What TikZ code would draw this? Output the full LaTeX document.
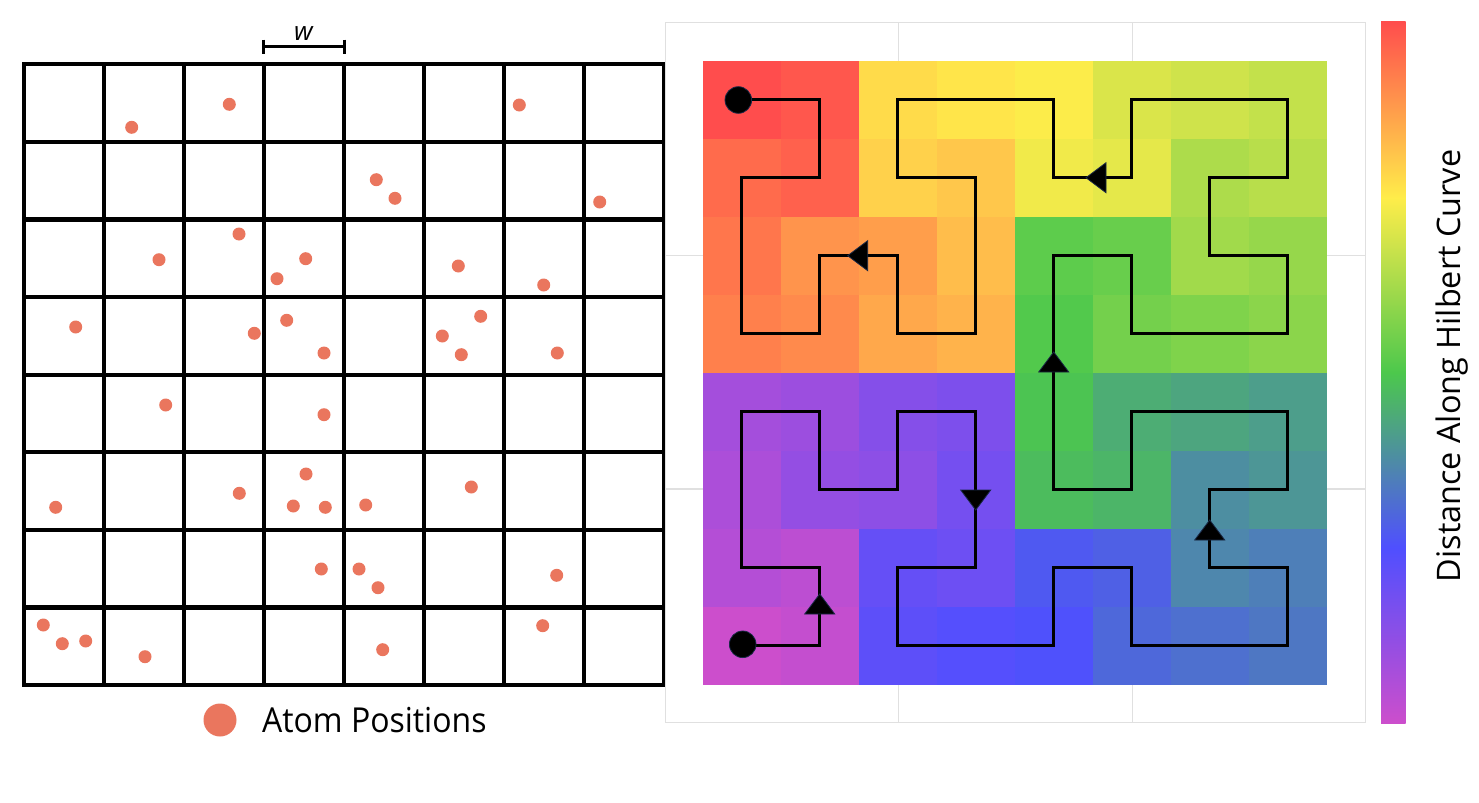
\documentclass[tikz,border=0pt]{standalone}
\usepackage{fontspec}
\setmainfont{Open Sans}
\newfontfamily\legendfont{Open Sans}[FakeStretch=0.93]
\definecolor{cm0}{RGB}{204,78,204}
\definecolor{cm1}{RGB}{79,79,255}
\definecolor{cm2}{RGB}{76,200,76}
\definecolor{cm3}{RGB}{255,237,74}
\definecolor{cm4}{RGB}{255,77,77}
\definecolor{atom}{RGB}{234,118,94}
\definecolor{panelgrid}{RGB}{224,224,224}
\definecolor{tririm}{RGB}{25,40,70}
\begin{document}
\begin{tikzpicture}[x=0.5pt,y=-0.5pt,
  gridline/.style={line width=2.1pt},
  hilb/.style={line width=1.5pt, line join=miter},
  tri/.style={fill=black, draw=tririm, line width=0.4pt, line join=miter},
  endpt/.style={circle, fill=black, draw=tririm, line width=0.4pt, minimum size=13.3pt, inner sep=0pt},
  faint/.style={draw=panelgrid, line width=0.6pt},
  atomdot/.style={fill=atom}]
\fill[white] (0,0) rectangle (1479,803);
\useasboundingbox (0,0) rectangle (1479,803);

% ---------------- left grid ----------------
\foreach \k in {1,...,7} {
  \draw[gridline] ({24.3+80*\k},64.3) -- ({24.3+80*\k},685);
  \draw[gridline] (24.3,{64.3+77.59*\k}) -- (664.3,{64.3+77.59*\k});
}
\draw[gridline] (24.3,64.3) rectangle (664.3,685);

\foreach \px/\py in {131.7/127.3, 229.3/104.3, 239/234, 159/259.7, 305.7/258.7, 277/278.7,
  75.7/327, 286.7/320.3, 254.3/333.3, 324/353,
  519.3/105, 376.3/179.7, 395/198.3, 599.7/202, 458.3/266, 543.7/285, 480.7/316.3,
  442.3/336, 461.3/354.7, 557.3/353,
  165.7/405, 324/414.7, 306/474, 239.3/493.3, 55.7/507.3, 293.3/506, 325.3/507.3,
  321.3/569, 43.3/625, 62.3/643.7, 85.7/641, 145/656.7,
  471.3/487, 365.7/505, 359/569, 378/587.7, 556.7/575.3, 542.7/625.7, 382.7/649.7}
  \fill[atomdot] (\px,\py) circle[radius=3.25pt];

% w bracket
\coordinate (wl) at (263.3,46.7);
\coordinate (wr) at (344.7,46.7);
\draw[line width=1.5pt] (wl) -- (wr);
\draw[line width=1.5pt] ([yshift=3.5pt]wl) -- ([yshift=-3.5pt]wl);
\draw[line width=1.5pt] ([yshift=3.5pt]wr) -- ([yshift=-3.5pt]wr);
\node[font=\fontsize{13}{15}\selectfont\itshape, anchor=base, inner sep=0pt] (wlab) at (303.5,40) {w};

% legend
\node[circle, fill=atom, minimum size=16.5pt, inner sep=0pt] (legdot) at (220,720) {};
\node[anchor=base west, font=\legendfont\fontsize{17.2}{20}\selectfont, inner sep=0pt] (legtxt) at (261.7,732.7) {Atom Positions};

% ---------------- right panel ----------------
\draw[faint] (665.7,22.3) rectangle (1365.5,722.7);
\draw[faint] (898.7,22.3) -- (898.7,722.7);
\draw[faint] (1132.7,22.3) -- (1132.7,722.7);
\draw[faint] (665.7,255.7) -- (1365.5,255.7);
\draw[faint] (665.7,489) -- (1365.5,489);

\foreach [count=\d from 0] \i/\j in {
  0/0,1/0,1/1,0/1,0/2,0/3,1/3,1/2,2/2,2/3,3/3,3/2,3/1,2/1,2/0,3/0,
  4/0,4/1,5/1,5/0,6/0,7/0,7/1,6/1,6/2,7/2,7/3,6/3,5/3,5/2,4/2,4/3,
  4/4,4/5,5/5,5/4,6/4,7/4,7/5,6/5,6/6,7/6,7/7,6/7,5/7,5/6,4/6,4/7,
  3/7,2/7,2/6,3/6,3/5,3/4,2/4,2/5,1/5,1/4,0/4,0/5,0/6,1/6,1/7,0/7} {
  \pgfmathtruncatemacro\k{min(floor(\d*4/63),3)}
  \pgfmathtruncatemacro\kk{\k+1}
  \pgfmathsetmacro\p{max(min((\d*4/63-\k)*100,100),0)}
  \fill[fill=cm\kk!\p!cm\k] ({702.7+78*\i},{60.7+78*(7-\j)}) rectangle ++(78.4,78.4);
  \coordinate (h\d) at ({741.7+78*\i},{99.7+78*(7-\j)});
}

\draw[hilb] (h0) \foreach \n in {1,...,63} { -- (h\n) };

\node[endpt] (startpt) at (742.7,644.3) {};
\node[endpt] (endpt) at (738.3,100) {};

% direction markers
\draw[tri] (804.7,614) -- (834.7,614) -- (819.7,594) -- cycle;
\draw[tri] (960.7,490) -- (990.7,490) -- (975.7,510) -- cycle;
\draw[tri] (1194.7,540) -- (1224.7,540) -- (1209.7,520) -- cycle;
\draw[tri] (1038.7,372) -- (1068.7,372) -- (1053.7,352) -- cycle;
\draw[tri] (1106,162.7) -- (1106,192.7) -- (1086,177.7) -- cycle;
\draw[tri] (867.7,240.7) -- (867.7,270.7) -- (847.7,255.7) -- cycle;

% ---------------- colour bar ----------------
\shade[bottom color=cm0, top color=cm1] (1381,723) rectangle (1405.7,547.1);
\shade[bottom color=cm1, top color=cm2] (1381,548.1) rectangle (1405.7,372.3);
\shade[bottom color=cm2, top color=cm3] (1381,373.3) rectangle (1405.7,197.4);
\shade[bottom color=cm3, top color=cm4] (1381,198.4) rectangle (1405.7,21.5);
\node[rotate=90, anchor=base, font=\fontsize{16.2}{19}\selectfont] (cblab) at (1460,366) {Distance Along Hilbert Curve};
\end{tikzpicture}
\end{document}
